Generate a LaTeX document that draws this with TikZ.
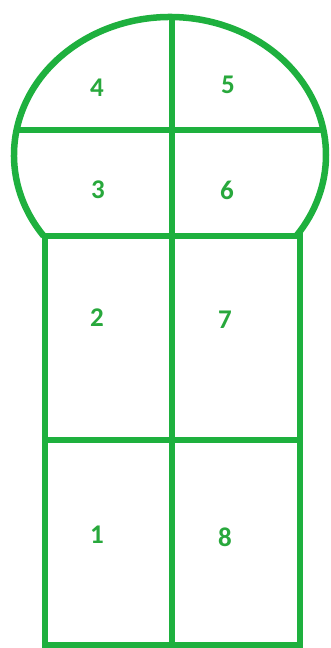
\documentclass[tikz,border=0pt]{standalone}
\usepackage{fontspec}
\setmainfont{Carlito}
\usepackage{xcolor}
\usepackage{tikz}
\usetikzlibrary{calc}
\definecolor{hopGreen}{RGB}{30,176,62}
\definecolor{hopText}{RGB}{40,168,60}

\begin{document}
\begin{tikzpicture}[x=1pt,y=1pt,
    court/.style={hopGreen, line width=6.5pt},
    divider/.style={hopGreen, line width=5.5pt},
    num/.style={text=hopText, font=\fontsize{27}{27}\selectfont\bfseries, inner sep=0pt}]
    \useasboundingbox (0,0) rectangle (330,648);

    % dome on top
    \coordinate (domeC) at (170,493);
    \draw[court] ($(domeC)+(216:156 and 138)$) arc[start angle=216, end angle=-36, x radius=156, y radius=138];
    \coordinate (domeL) at (15,518);
    \coordinate (domeR) at (325,518);
    \draw[court] (domeL)--(domeR);

    % lower rectangle
    \coordinate (boxTL) at (45,412);
    \coordinate (boxBR) at (300,3);
    \draw[court] (boxTL) rectangle (boxBR);
    \coordinate (midL) at (45,208);
    \coordinate (midR) at (300,208);
    \draw[court] (midL)--(midR);

    % centre line
    \coordinate (topC) at (172,631);
    \coordinate (botC) at (172,0);
    \draw[divider] (topC)--(botC);

    % squares
    \node[num] (n4) at (97,560) {4};
    \node[num] (n5) at (228,563) {5};
    \node[num] (n3) at (98,458) {3};
    \node[num] (n6) at (227,458) {6};
    \node[num] (n2) at (97,330) {2};
    \node[num] (n7) at (225,328) {7};
    \node[num] (n1) at (97,113) {1};
    \node[num] (n8) at (225,111) {8};
\end{tikzpicture}
\end{document}
